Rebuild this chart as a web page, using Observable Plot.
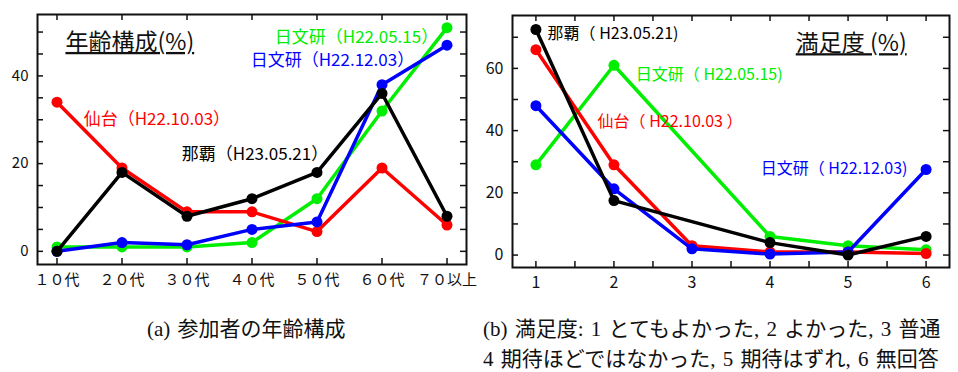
<!DOCTYPE html>
<html>
<head>
<meta charset="utf-8">
<script src="https://cdn.jsdelivr.net/npm/d3@7"></script>
<script src="https://cdn.jsdelivr.net/npm/@observablehq/plot@0.6"></script>
<style>
  html, body { margin: 0; padding: 0; background: white; }
  #wrap { position: relative; width: 958px; height: 372px; overflow: hidden; background: white; }
  #left { position: absolute; left: 0; top: 0; }
  #right { position: absolute; left: 480px; top: 0; }
  .cap { position: absolute; font-family: "Liberation Serif", "Noto Sans CJK JP", serif; font-size: 21px; color: #111; white-space: nowrap; line-height: 28px; word-spacing: 2px; }
  .cap .j { font-family: "Noto Sans CJK JP", sans-serif; }
</style>
</head>
<body>
<div id="wrap">
  <div id="left"></div>
  <div id="right"></div>
  <div class="cap" id="capA" style="left:147px; top:313px;">(a) <span class="j">参加者の年齢構成</span></div>
  <div class="cap" id="capB" style="left:483px; top:313px;">(b) <span class="j">満足度</span>: 1 <span class="j">とてもよかった</span>, 2 <span class="j">よかった</span>, 3 <span class="j">普通</span><br>4 <span class="j">期待ほどではなかった</span>, 5 <span class="j">期待はずれ</span>, 6 <span class="j">無回答</span></div>
</div>
<script>
// ---------- data: (a) age composition (%) ----------
const ageLabels = ["１０代", "２０代", "３０代", "４０代", "５０代", "６０代", "７０以上"];
const ageSendai   = [34, 19, 9, 9, 4.5, 19, 6];      // 仙台（H22.10.03）
const ageNichi0515 = [1, 1, 1, 2, 12, 32, 51];       // 日文研（H22.05.15）
const ageNichi1203 = [0, 2, 1.5, 5, 6.7, 38, 47];    // 日文研（H22.12.03）
const ageNaha     = [0, 18, 8, 12, 18, 36, 8];       // 那覇（H23.05.21）

// ---------- data: (b) satisfaction (%) ----------
const satLevels = [1, 2, 3, 4, 5, 6];
const satSendai    = [66, 29, 3, 1, 1, 0.5];
const satNichi0515 = [29, 61, null, 6, 3, 1.7];
const satNichi1203 = [48, 21.3, 2, 0.3, 1, 27.5];
const satNaha      = [72.5, 17.5, null, 4, 0, 6];

const seriesNames  = ["日文研0515", "仙台", "日文研1203", "那覇"];
const seriesColors = ["#00ee00", "#ff0000", "#0000ff", "#000000"];

const ageSeries = [ageNichi0515, ageSendai, ageNichi1203, ageNaha];
const satSeries = [satNichi0515, satSendai, satNichi1203, satNaha];

// annotation labels (data coordinates)
const ageNotes = [
  {text: "日文研（H22.05.15）", x: 4.35, y: 48.7, c: "#00ee00"},
  {text: "日文研（H22.12.03）", x: 3.98, y: 43.5, c: "#0000ff"},
  {text: "仙台（H22.10.03）", x: 1.41, y: 30, c: "#ff0000"},
  {text: "那覇（H23.05.21）", x: 2.92, y: 22, c: "#000000"}
];
const ageTitle = [{text: "年齢構成(%)", x: 1.13, y: 47.6}];
const satNotes = [
  {text: "那覇（ H23.05.21)", x: 1.15, y: 71.1, c: "#000000"},
  {text: "日文研（ H22.05.15)", x: 2.28, y: 58, c: "#00ee00"},
  {text: "仙台（ H22.10.03 ）", x: 1.79, y: 42.9, c: "#ff0000"},
  {text: "日文研（ H22.12.03)", x: 3.88, y: 27.8, c: "#0000ff"}
];
const satTitle = [{text: "満足度 (%)", x: 4.33, y: 67.9}];

// ---------- build tables ----------
function table(xs, seriesArr) {
  const rows = [];
  seriesArr.forEach((vals, s) => {
    vals.forEach((v, i) => {
      if (v != null) rows.push({series: seriesNames[s], x: xs[i], v});
    });
  });
  return rows;
}
const ageIdx = ageLabels.map((_, i) => i + 1);
const ageRows = table(ageIdx, ageSeries);
const satRows = table(satLevels, satSeries);

const FONT = "'Noto Sans CJK JP', 'Noto Sans', sans-serif";

function seriesMarks(rows) {
  const marks = [];
  seriesNames.forEach((name, s) => {
    const d = rows.filter(r => r.series === name);
    marks.push(Plot.line(d, {x: "x", y: "v", stroke: seriesColors[s], strokeWidth: 3.5, strokeLinejoin: "round", strokeLinecap: "round"}));
    marks.push(Plot.dot(d, {x: "x", y: "v", r: 5.5, fill: seriesColors[s], stroke: "none"}));
  });
  return marks;
}

function underline(svg, txt) {
  d3.select(svg).selectAll("text").filter(function() { return this.textContent === txt; })
    .style("text-decoration", "underline");
}

// ---------- (a) ----------
{
  const W = 480, H = 300, mL = 37, mR = 14, mT = 14, mB = 36;
  const fw = W - mL - mR, fh = H - mT - mB;
  const chart = Plot.plot({
    width: W, height: H,
    marginLeft: mL, marginRight: mR, marginTop: mT, marginBottom: mB,
    x: {domain: [0.7, 7.3]},
    y: {domain: [-3, 54]},
    style: {fontFamily: FONT, background: "white", color: "#111"},
    marks: [
      Plot.ruleY(d3.range(0, 55, 5), {stroke: "#111", strokeWidth: 1.5, insetRight: fw - 6}),
      Plot.ruleY(d3.range(0, 55, 5), {stroke: "#111", strokeWidth: 1.5, insetLeft: fw - 6}),
      Plot.ruleX(ageIdx, {stroke: "#111", strokeWidth: 1.5, insetTop: fh - 6}),
      Plot.ruleX(ageIdx, {stroke: "#111", strokeWidth: 1.5, insetBottom: fh - 6}),
      Plot.frame({stroke: "#111", strokeWidth: 2}),
      Plot.axisY({ticks: [0, 20, 40], tickSize: 0, tickPadding: 9, fontSize: 15, label: null}),
      Plot.axisX({ticks: ageIdx, tickFormat: i => ageLabels[i - 1], tickSize: 0, tickPadding: 10, fontSize: 15, label: null}),
      ...seriesMarks(ageRows),
      Plot.text(ageNotes, {x: "x", y: "y", text: "text", fill: "c", textAnchor: "start", fontSize: 17}),
      Plot.text(ageTitle, {x: "x", y: "y", text: "text", fill: "#111", textAnchor: "start", fontSize: 23})
    ]
  });
  underline(chart, "年齢構成(%)");
  document.getElementById("left").append(chart);
}

// ---------- (b) ----------
{
  const W = 478, H = 300, mL = 32, mR = 9, mT = 15, mB = 33;
  const fw = W - mL - mR, fh = H - mT - mB;
  const chart = Plot.plot({
    width: W, height: H,
    marginLeft: mL, marginRight: mR, marginTop: mT, marginBottom: mB,
    x: {domain: [0.7, 6.3]},
    y: {domain: [-4, 77]},
    style: {fontFamily: FONT, background: "white", color: "#111"},
    marks: [
      Plot.ruleY(d3.range(0, 75, 10), {stroke: "#111", strokeWidth: 1.5, insetRight: fw - 6}),
      Plot.ruleY(d3.range(0, 75, 10), {stroke: "#111", strokeWidth: 1.5, insetLeft: fw - 6}),
      Plot.ruleX(d3.range(1, 6.01, 0.5), {stroke: "#111", strokeWidth: 1.5, insetTop: fh - 6}),
      Plot.ruleX(d3.range(1, 6.01, 0.5), {stroke: "#111", strokeWidth: 1.5, insetBottom: fh - 6}),
      Plot.frame({stroke: "#111", strokeWidth: 2}),
      Plot.axisY({ticks: [0, 20, 40, 60], tickSize: 0, tickPadding: 9, fontSize: 16, label: null}),
      Plot.axisX({ticks: satLevels, tickFormat: d => String(d), tickSize: 0, tickPadding: 9, fontSize: 16, label: null}),
      ...seriesMarks(satRows),
      Plot.text(satNotes, {x: "x", y: "y", text: "text", fill: "c", textAnchor: "start", fontSize: 16}),
      Plot.text(satTitle, {x: "x", y: "y", text: "text", fill: "#111", textAnchor: "start", fontSize: 23})
    ]
  });
  underline(chart, "満足度 (%)");
  document.getElementById("right").append(chart);
}
</script>
</body>
</html>
